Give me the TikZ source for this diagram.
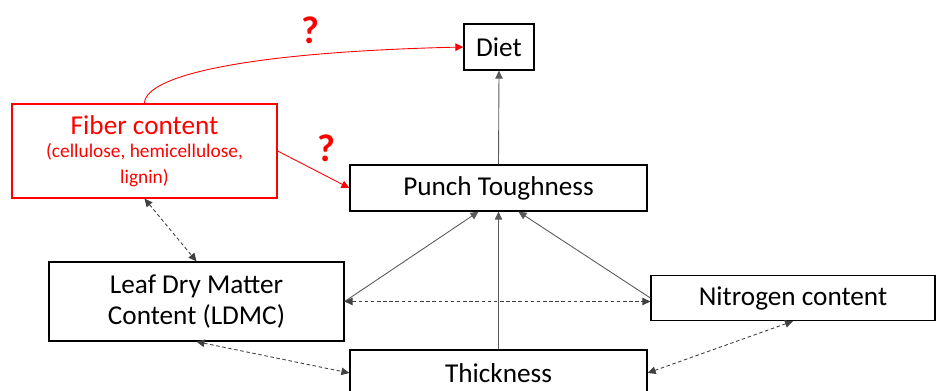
\documentclass[tikz,border=0pt]{standalone}
\usepackage{fontspec}
\setmainfont{Carlito}
\usepackage{xcolor}
\usepackage{tikz}
\usetikzlibrary{arrows.meta,positioning,calc}

\begin{document}
\begin{tikzpicture}[x=0.02cm, y=-0.02cm,
    every node/.style={font=\fontsize{15.5}{18}\selectfont},
    trait/.style={draw, line width=0.75pt, inner sep=0pt, align=center},
    effect/.style={draw=black!65, line width=0.5pt, -{Triangle[length=1.6mm, width=1.5mm]}},
    corr/.style={draw=black!75, line width=0.5pt, dash pattern=on 2pt off 1.5pt, {Triangle[length=1.6mm, width=1.5mm]}-{Triangle[length=1.6mm, width=1.5mm]}},
    guess/.style={draw=red, line width=0.5pt, -{Triangle[length=1.6mm, width=1.5mm]}},
    qmark/.style={text=red, font=\fontsize{22}{26}\selectfont\bfseries}]
    \useasboundingbox (0,0) rectangle (936,391);
    % boxes
    \node[trait, minimum width=1.4cm, minimum height=0.92cm] (diet) at (499,47) {Diet};
    \node[trait, draw=red, text=red, minimum width=5.3cm, minimum height=1.88cm] (fiber) at (144.5,151)
      {Fiber content\\[-4.5pt]{\fontsize{11}{13.6}\selectfont (cellulose, hemicellulose,}\\[-3.5pt]{\fontsize{11}{13.6}\selectfont lignin)}};
    \node[trait, minimum width=5.94cm, minimum height=0.92cm] (punch) at (498.5,188) {Punch Toughness};
    \node[trait, minimum width=5.9cm, minimum height=1.58cm] (ldmc) at (196.5,301.5) {Leaf Dry Matter\\Content (LDMC)};
    \node[trait, minimum width=5.68cm, minimum height=0.9cm] (nitro) at (793,298) {Nitrogen content};
    \node[trait, minimum width=5.94cm, minimum height=0.92cm] (thick) at (498.5,373) {Thickness};
    % question marks
    \node[qmark] (q1) at (310,30) {?};
    \node[qmark] (q2) at (326,148) {?};
    % unknown links
    \draw[guess] (fiber.north) .. controls (145,75) and (250,52) .. (diet.west);
    \draw[guess] (fiber.east) -- (punch.west);
    % effects
    \draw[effect] (punch.north) -- (diet.south);
    \draw[effect] (ldmc.east) -- ([xshift=-0.4cm]punch.south);
    \draw[effect] (thick.north) -- (punch.south);
    \draw[effect] (nitro.west) -- ([xshift=0.4cm]punch.south);
    % correlations
    \draw[corr] (fiber.south) -- (ldmc.north);
    \draw[corr] (ldmc.east) -- (ldmc.east -| nitro.west);
    \draw[corr] (ldmc.south) -- (thick.west);
    \draw[corr] (thick.east) -- (nitro.south);
\end{tikzpicture}
\end{document}
